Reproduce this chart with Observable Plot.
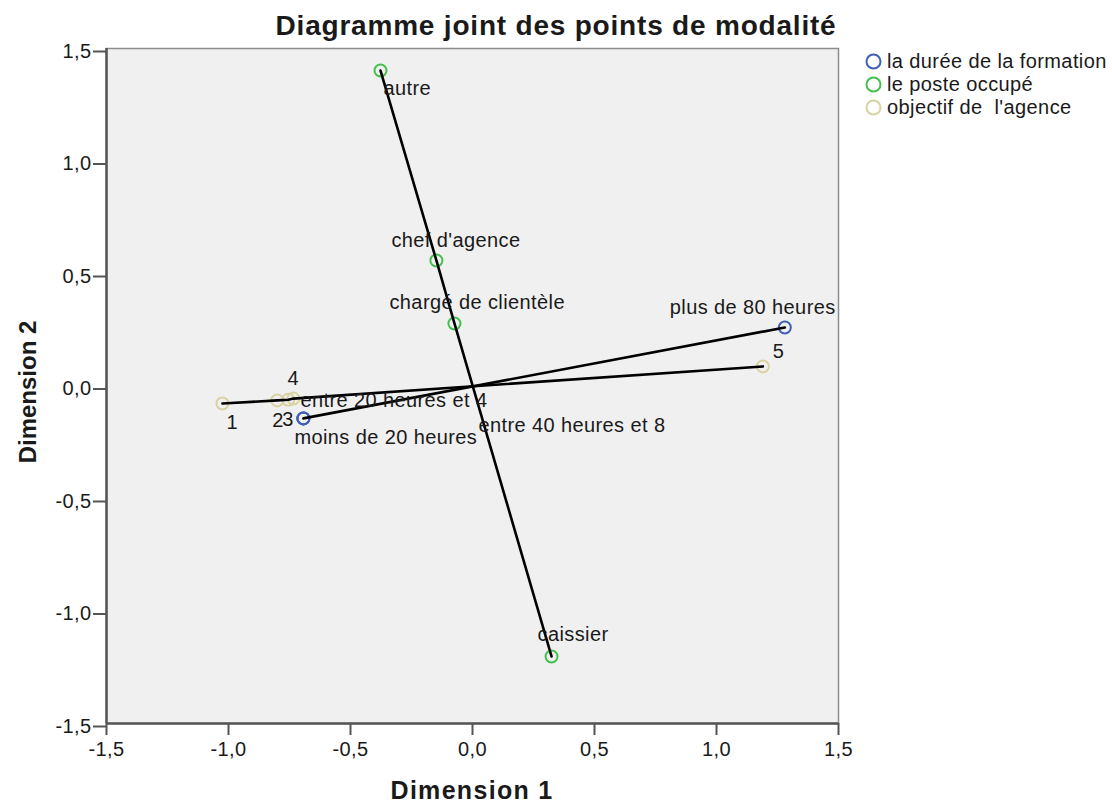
<!DOCTYPE html>
<html>
<head>
<meta charset="utf-8">
<script src="https://cdn.jsdelivr.net/npm/d3@7"></script>
<script src="https://cdn.jsdelivr.net/npm/@observablehq/plot@0.6"></script>
<style>
  html, body { margin: 0; padding: 0; background: #fff; }
  #wrap { position: relative; width: 1112px; height: 803px; font-family: "Liberation Sans", Arial, sans-serif; color: #1a1a1a; }
  #title { position: absolute; left: 0; width: 1112px; top: 10px; line-height: 32px; text-align: center; padding-left: 0px; font-weight: bold; font-size: 28px; letter-spacing: 0.8px; white-space: nowrap; }
  .axtitle { position: absolute; font-weight: bold; white-space: nowrap; }
  #xt { left: 472px; top: 790px; transform: translate(-50%, -50%); font-size: 25px; letter-spacing: 1.3px; }
  #yt { left: 28px; top: 392px; transform: translate(-50%, -50%) rotate(-90deg); font-size: 24px; }
  #legend { position: absolute; left: 865px; top: 50px; font-size: 20px; letter-spacing: 0.4px; line-height: 23px; }
  #legend .row { display: flex; align-items: center; white-space: pre; }
  #legend svg { margin-right: 5px; }
  #plot { position: absolute; left: 0; top: 0; }
  #plot text { letter-spacing: 0.4px; }
</style>
</head>
<body>
<div id="wrap">
  <div id="plot"></div>
  <div id="title">Diagramme joint des points de modalité</div>
  <div id="xt" class="axtitle">Dimension 1</div>
  <div id="yt" class="axtitle">Dimension 2</div>
  <div id="legend"></div>
</div>
<script>
// ---- data ----
const variables = ["la durée de la formation", "le poste occupé", "objectif de  l'agence"];
const variableColors = ["#4060b8", "#45c04e", "#d8d2a0"];

const dureeLabels = ["moins de 20 heures", "entre 20 heures et 4", "entre 40 heures et 8", "plus de 80 heures"];
const dureeDim1 = [-0.693, -0.693, -0.693, 1.28];
const dureeDim2 = [-0.144, -0.144, -0.144, 0.26];

const posteLabels = ["caissier", "chargé de clientèle", "chef d'agence", "autre"];
const posteDim1 = [0.324, -0.074, -0.148, -0.377];
const posteDim2 = [-1.202, 0.278, 0.558, 1.402];

const objectifLabels = ["1", "2", "3", "4", "5"];
const objectifDim1 = [-1.025, -0.80, -0.755, -0.734, 1.19];
const objectifDim2 = [-0.078, -0.064, -0.061, -0.056, 0.087];

const tickValues = [-1.5, -1.0, -0.5, 0.0, 0.5, 1.0, 1.5];

// label placement (layout only): [dx, dy]
const labelOffsets = {
  "moins de 20 heures": [-9, 19],
  "entre 20 heures et 4": [-3, -18],
  "entre 40 heures et 8": [175, 7],
  "plus de 80 heures": [-115, -20],
  "caissier": [-14, -22],
  "chargé de clientèle": [-65, -21],
  "chef d'agence": [-45, -20],
  "autre": [3, 18],
  "1": [4, 19],
  "2": [-5, 20],
  "3": [-6, 20],
  "4": [-6, -20],
  "5": [10, -15]
};

// ---- build table ----
function build(variable, labels, d1, d2) {
  return labels.map((label, i) => ({variable, label, dim1: d1[i], dim2: d2[i]}));
}
const points = [
  ...build(variables[0], dureeLabels, dureeDim1, dureeDim2),
  ...build(variables[1], posteLabels, posteDim1, posteDim2),
  ...build(variables[2], objectifLabels, objectifDim1, objectifDim2)
];
const linePoints = d3.sort(points, d => d.variable, d => d.dim1);

const fmt = d => d.toFixed(1).replace(".", ",");
const font = "Liberation Sans, Arial, sans-serif";

const labelMarks = points.map(p => {
  const [dx, dy] = labelOffsets[p.label] || [0, 0];
  return Plot.text([p], {x: "dim1", y: "dim2", text: "label", dx, dy, textAnchor: "start", fill: "#1a1a1a", fontSize: 20});
});

const chart = Plot.plot({
  width: 1112,
  height: 803,
  marginLeft: 106,
  marginRight: 274,
  marginTop: 48,
  marginBottom: 80,
  style: {fontFamily: font, background: "transparent", overflow: "visible"},
  x: {domain: [-1.5, 1.5]},
  y: {domain: [-1.5, 1.5]},
  color: {domain: variables, range: variableColors},
  marks: [
    Plot.frame({fill: "#f0f0f0", stroke: "#8c8c8c", strokeWidth: 1.5}),
    Plot.ruleX([-1.5], {stroke: "#555", strokeWidth: 2.5}),
    Plot.ruleY([-1.5], {stroke: "#555", strokeWidth: 2.5}),
    Plot.axisX({ticks: tickValues, tickFormat: fmt, tickSize: 12, tickPadding: 6, fontSize: 20, stroke: "#555", strokeWidth: 2, strokeOpacity: 1, color: "#1a1a1a", label: null}),
    Plot.axisY({ticks: tickValues, tickFormat: fmt, tickSize: 13, tickPadding: 2, fontSize: 20, stroke: "#555", strokeWidth: 2, strokeOpacity: 1, color: "#1a1a1a", label: null, dy: 3}),
    Plot.dot(points, {x: "dim1", y: "dim2", stroke: "variable", r: 6, strokeWidth: 2, fill: "none"}),
    Plot.line(linePoints, {x: "dim1", y: "dim2", z: "variable", stroke: "black", strokeWidth: 2.6}),
    ...labelMarks
  ]
});
document.getElementById("plot").appendChild(chart);

// legend
const legend = d3.select("#legend");
variables.forEach((v, i) => {
  const row = legend.append("div").attr("class", "row");
  const s = row.append("svg").attr("width", 17).attr("height", 17);
  s.append("circle").attr("cx", 8.5).attr("cy", 8.5).attr("r", 7).attr("fill", "none")
    .attr("stroke", variableColors[i]).attr("stroke-width", 2);
  row.append("span").text(v);
});
</script>
</body>
</html>
